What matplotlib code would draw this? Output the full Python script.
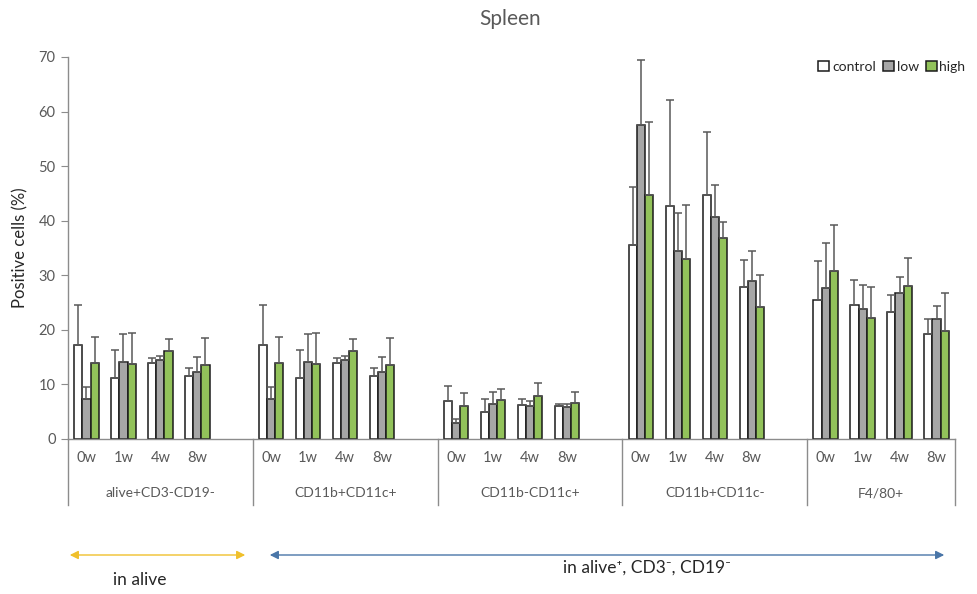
import matplotlib.pyplot as plt
import matplotlib.transforms as mtransforms
from matplotlib.patches import FancyArrowPatch
import numpy as np

GROUPS = ["alive+CD3-CD19-", "CD11b+CD11c+", "CD11b-CD11c+", "CD11b+CD11c-", "F4/80+"]
TIMEPOINTS = ["0w", "1w", "4w", "8w"]
SERIES = ["control", "low", "high"]

# mean % positive cells, 4 time points per group
control_mean = [17.2, 11.2, 13.9, 11.6,
                17.2, 11.2, 13.9, 11.6,
                7.0, 4.9, 6.3, 6.0,
                35.6, 42.7, 44.7, 27.9,
                25.4, 24.5, 23.3, 19.3]
low_mean = [7.4, 14.1, 14.4, 12.2,
            7.4, 14.1, 14.4, 12.2,
            2.9, 6.4, 6.0, 5.8,
            57.5, 34.5, 40.6, 29.0,
            27.6, 23.9, 26.7, 22.0]
high_mean = [13.9, 13.8, 16.1, 13.5,
             13.9, 13.8, 16.1, 13.5,
             6.0, 7.2, 7.8, 6.6,
             44.8, 32.9, 36.8, 24.2,
             30.8, 22.2, 28.0, 19.8]

# standard deviations (upper error bars)
control_sd = [7.4, 5.1, 0.9, 1.5,
              7.4, 5.1, 0.9, 1.5,
              2.8, 2.5, 1.1, 0.5,
              10.5, 19.4, 11.6, 4.9,
              7.2, 4.7, 3.1, 2.7]
low_sd = [2.1, 5.2, 0.9, 2.8,
          2.1, 5.2, 0.9, 2.8,
          0.7, 2.3, 1.0, 0.6,
          12.0, 7.0, 5.9, 5.5,
          8.4, 4.3, 3.0, 2.4]
high_sd = [4.8, 5.7, 2.3, 5.0,
           4.8, 5.7, 2.3, 5.0,
           2.4, 1.9, 2.5, 2.1,
           13.2, 10.0, 3.0, 5.9,
           8.4, 5.7, 5.2, 6.9]

FILL = ["#ffffff", "#a6a6a6", "#92c25a"]
TEXT_GRAY = "#595959"
AXIS_GRAY = "#8c8c8c"
FONT = ["Lato", "DejaVu Sans"]

plt.rcParams["font.family"] = FONT

fig = plt.figure(figsize=(9.78, 5.94), dpi=100)
W, H = 978, 594
ax = fig.add_axes([68 / W, 1 - 439 / H, (955 - 68) / W, (439 - 57) / H])

# one empty slot after every group except the last
x = []
for g in range(len(GROUPS)):
    x.extend(g * 5 + np.arange(4))
x = np.array(x)

width = 0.22
means = [control_mean, low_mean, high_mean]
sds = [control_sd, low_sd, high_sd]
for i, (m, s) in enumerate(zip(means, sds)):
    xs = x + (i - 1) * width
    ax.bar(xs, m, width, color=FILL[i], edgecolor="#1a1a1a", linewidth=1.1,
           label=SERIES[i], zorder=2)
    ax.errorbar(xs, m, yerr=[np.zeros(len(s)), s], fmt="none", ecolor="#595959",
                elinewidth=1.1, capsize=3, capthick=1.1, zorder=3)

ax.set_xlim(-0.5, 23.5)
ax.set_ylim(0, 70)
ax.set_yticks(range(0, 71, 10))
ax.tick_params(axis="y", direction="out", length=5, color=AXIS_GRAY,
               labelcolor=TEXT_GRAY, labelsize=10.5, pad=4)
ax.set_xticks(x)
ax.set_xticklabels(TIMEPOINTS * len(GROUPS))
ax.tick_params(axis="x", length=0, labelcolor=TEXT_GRAY, labelsize=10.5, pad=9)

for side in ["top", "right"]:
    ax.spines[side].set_visible(False)
for side in ["left", "bottom"]:
    ax.spines[side].set_color(AXIS_GRAY)
    ax.spines[side].set_linewidth(1.0)

ax.set_ylabel("Positive cells (%)", fontsize=12, color="#262626", labelpad=7)

# group separators and group names below the time-point labels
trans = mtransforms.blended_transform_factory(ax.transData, ax.transAxes)
bottom = -(505 - 439) / (439 - 57)
for xb in [-0.5, 4.5, 9.5, 14.5, 19.5, 23.5]:
    ax.plot([xb, xb], [0, bottom], transform=trans, color=AXIS_GRAY,
            linewidth=1.0, clip_on=False)
group_centers = [2, 7, 12, 17, 21.5]
for xc, name in zip(group_centers, GROUPS):
    ax.text(xc, -(493 - 439) / (439 - 57), name, transform=trans, ha="center",
            va="center", fontsize=10, color=TEXT_GRAY)

fig.text(510 / W, 1 - 19 / H, "Spleen", ha="center", va="center",
         fontsize=15, color=TEXT_GRAY)

fig.legend(loc="upper right", bbox_to_anchor=(978 / W, 1 - 48 / H), ncol=3,
           frameon=False, fontsize=10, handlelength=0.8, handleheight=0.8,
           handletextpad=0.2, columnspacing=0.5, labelcolor="#262626")

# population brackets
arrow_y = 1 - 555 / H
head = "<|-|>,head_length=5,head_width=2.5"
fig.patches.append(FancyArrowPatch((67 / W, arrow_y), (248 / W, arrow_y),
                                   transform=fig.transFigure, arrowstyle=head,
                                   color="#f0c02c", linewidth=1.0))
fig.patches.append(FancyArrowPatch((267 / W, arrow_y), (947 / W, arrow_y),
                                   transform=fig.transFigure, arrowstyle=head,
                                   color="#4a76a8", linewidth=1.0))
fig.text(140 / W, 1 - 580 / H, "in alive", ha="center", va="center",
         fontsize=12.5, color="#262626")
fig.text(647 / W, 1 - 568 / H, "in alive\u207a, CD3\u207b, CD19\u207b", ha="center",
         va="center", fontsize=12.5, color="#262626")

fig.savefig("out.png", dpi=100)
